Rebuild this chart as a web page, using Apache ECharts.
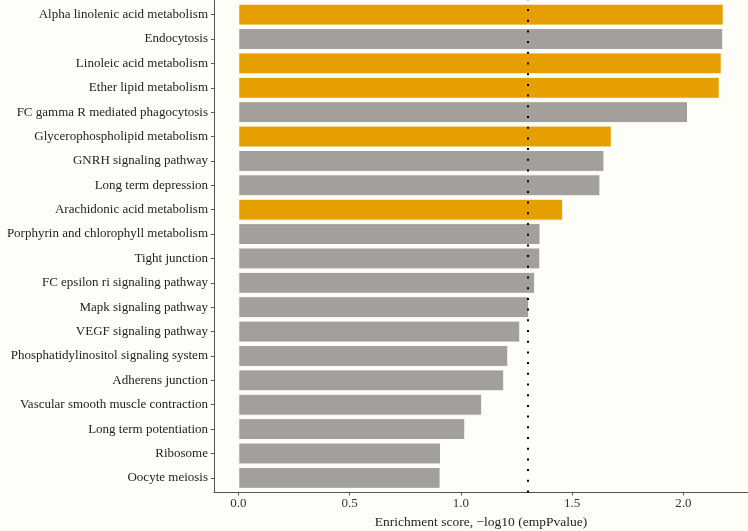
<!DOCTYPE html>
<html>
<head>
<meta charset="utf-8">
<script src="https://cdn.jsdelivr.net/npm/echarts@6/dist/echarts.min.js"></script>
<style>
html,body{margin:0;padding:0;background:#fefef9;}
#chart{width:748px;height:531px;}
</style>
</head>
<body>
<div id="chart"></div>
<script>
const categories = [
  "Alpha linolenic acid metabolism",
  "Endocytosis",
  "Linoleic acid metabolism",
  "Ether lipid metabolism",
  "FC gamma R mediated phagocytosis",
  "Glycerophospholipid metabolism",
  "GNRH signaling pathway",
  "Long term depression",
  "Arachidonic acid metabolism",
  "Porphyrin and chlorophyll metabolism",
  "Tight junction",
  "FC epsilon ri signaling pathway",
  "Mapk signaling pathway",
  "VEGF signaling pathway",
  "Phosphatidylinositol signaling system",
  "Adherens junction",
  "Vascular smooth muscle contraction",
  "Long term potentiation",
  "Ribosome",
  "Oocyte meiosis"
];
const scores = [2.181, 2.179, 2.172, 2.163, 2.021, 1.678, 1.645, 1.627, 1.460, 1.358, 1.357, 1.334, 1.307, 1.267, 1.213, 1.195, 1.096, 1.020, 0.911, 0.909];
const highlighted = [true, false, true, true, false, true, false, false, true, false, false, false, false, false, false, false, false, false, false, false];
const xTicks = [0, 0.5, 1.0, 1.5, 2.0];
const threshold = 1.3;
const xTitle = "Enrichment score, \u2212log10 (empPvalue)";

const FONT = "Liberation Serif";
const chart = echarts.init(document.getElementById('chart'));
const maxV = Math.max(...scores);
const pad = maxV * 0.05;
const W = 748, H = 531;
const gridLeft = 214, gridTop = 0, gridBottom = 38.5;
const plotH = H - gridTop - gridBottom;
const n = categories.length;
const step = plotH / (n - 1 + 1.2);
const inset = step * 0.1;
chart.setOption({
  backgroundColor: '#fefef9',
  animation: false,
  grid: [
    {left: gridLeft, right: 0, top: gridTop + inset, bottom: gridBottom + inset, containLabel: false, outerBoundsMode: 'none'},
    {left: gridLeft, right: 0, top: gridTop, bottom: gridBottom, containLabel: false, outerBoundsMode: 'none'}
  ],
  xAxis: [{
    gridIndex: 0, type: 'value', min: -pad, max: maxV + pad, show: false
  }, {
    gridIndex: 1, type: 'value',
    min: -pad, max: maxV + pad,
    axisLine: {show: true, onZero: false, lineStyle: {color: '#555', width: 1}},
    axisTick: {show: true, length: 3, lineStyle: {color: '#555'}, customValues: xTicks},
    axisLabel: {fontFamily: FONT, fontSize: 13, color: '#333', margin: 5,
      customValues: xTicks, formatter: v => v.toFixed(1)},
    splitLine: {show: false},
    name: xTitle, nameLocation: 'middle', nameGap: 23,
    nameTextStyle: {fontFamily: FONT, fontSize: 13.5, color: '#222'}
  }],
  yAxis: [{
    gridIndex: 0, type: 'category', data: categories, inverse: true,
    axisLine: {show: false, onZero: false},
    axisTick: {show: true, length: 3, alignWithLabel: true, lineStyle: {color: '#555'}},
    axisLabel: {fontFamily: FONT, fontSize: 13, color: '#222', margin: 6},
    splitLine: {show: false}
  }, {
    gridIndex: 1, type: 'value', min: 0, max: 1,
    axisLine: {show: true, onZero: false, lineStyle: {color: '#555', width: 1}},
    axisTick: {show: false}, axisLabel: {show: false}, splitLine: {show: false}
  }],
  series: [{
    type: 'bar', xAxisIndex: 0, yAxisIndex: 0,
    data: scores.map((v, i) => ({value: v, itemStyle: {color: highlighted[i] ? '#E69F00' : '#A39F9A'}})),
    barWidth: '90%',
    itemStyle: {borderColor: '#ffffff', borderWidth: 1},
    z: 2
  }, {
    type: 'line', xAxisIndex: 1, yAxisIndex: 1, data: [], z: 3,
    markLine: {
      silent: true, symbol: 'none',
      label: {show: false},
      lineStyle: {color: '#000', type: [2, 8.7], width: 2, cap: 'butt'},
      data: [{xAxis: threshold}]
    }
  }]
});
</script>
</body>
</html>
